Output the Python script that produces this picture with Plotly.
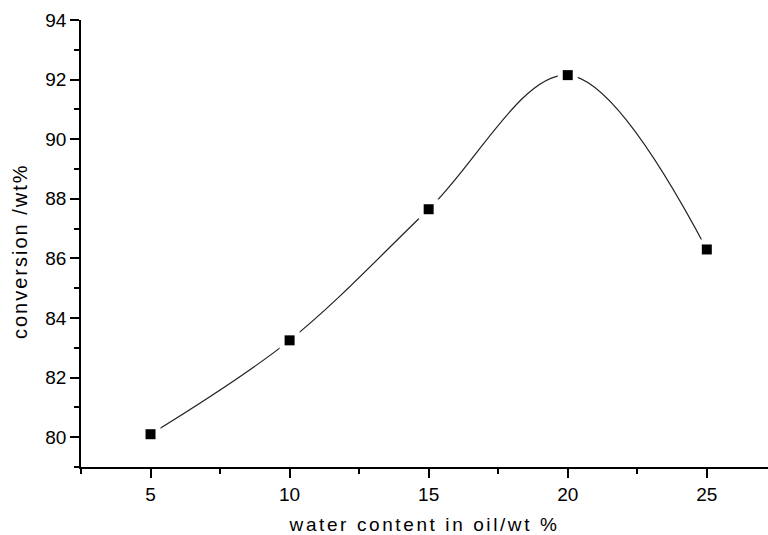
import plotly.graph_objects as go

water = [5, 10, 15, 20, 25]
conversion = [80.1, 83.25, 87.65, 92.15, 86.3]

fig = go.Figure()
fig.add_trace(go.Scatter(x=water, y=conversion, mode="lines",
                         line=dict(shape="spline", smoothing=1.0, color="#222222", width=1.2),
                         showlegend=False, hoverinfo="skip"))
fig.add_trace(go.Scatter(x=water, y=conversion, mode="markers",
                         marker=dict(symbol="square", size=20, color="white", line=dict(width=0)),
                         showlegend=False, hoverinfo="skip"))
fig.add_trace(go.Scatter(x=water, y=conversion, mode="markers",
                         marker=dict(symbol="square", size=10, color="black", line=dict(width=0)),
                         showlegend=False))

font = "Liberation Sans, Arial, Helvetica, sans-serif"
W, H = 768, 535
ml, mr, mt, mb = 81, 0, 20, 68
fig.update_layout(
    width=W, height=H,
    margin=dict(l=ml, r=mr, t=mt, b=mb),
    paper_bgcolor="white", plot_bgcolor="white",
    font=dict(family=font, color="black"),
)
fig.update_xaxes(
    range=[2.5, 27.2], tickvals=[5, 10, 15, 20, 25],
    showgrid=False, zeroline=False, showline=True, linecolor="black", linewidth=1.5,
    ticks="outside", ticklen=9, tickwidth=1.5, tickcolor="black",
    minor=dict(tickvals=[2.5, 7.5, 12.5, 17.5, 22.5], ticks="outside", ticklen=5, tickwidth=1.5, tickcolor="black"),
    tickfont=dict(size=19, family=font),
    title=dict(text='<span style="letter-spacing:2.6px">water content in oil/wt %</span>',
               font=dict(size=19, family=font), standoff=14),
)
fig.update_yaxes(
    range=[79, 94], tickvals=[80, 82, 84, 86, 88, 90, 92, 94],
    showgrid=False, zeroline=False, showline=True, linecolor="black", linewidth=1.5,
    ticks="outside", ticklen=9, tickwidth=1.5, tickcolor="black",
    minor=dict(tickvals=[79, 81, 83, 85, 87, 89, 91, 93], ticks="outside", ticklen=5, tickwidth=1.5, tickcolor="black"),
    tickfont=dict(size=19, family=font),
)
pw = W - ml - mr
ph = H - mt - mb
fig.add_annotation(
    text='<span style="letter-spacing:2px">conversion /wt%</span>',
    textangle=-90, showarrow=False,
    xref="paper", yref="paper",
    x=(20 - ml) / pw, y=(H - mb - 251) / ph,
    xanchor="center", yanchor="middle",
    font=dict(size=20, family=font, color="black"),
)
fig.write_html("out.html")
